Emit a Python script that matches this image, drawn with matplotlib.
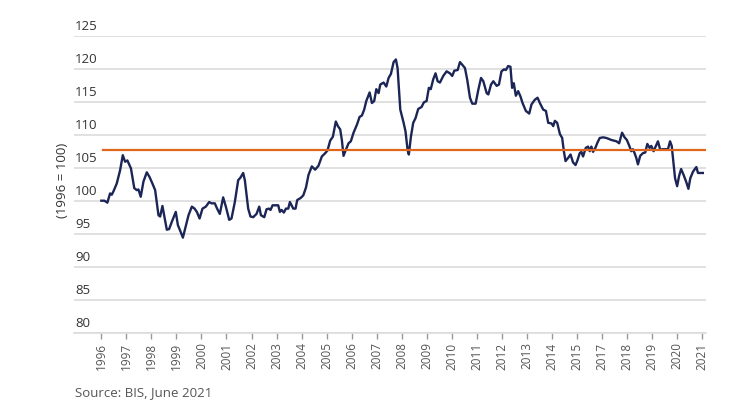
import matplotlib
matplotlib.use("Agg")
import matplotlib.pyplot as plt
from matplotlib.transforms import blended_transform_factory

plt.rcParams['font.family'] = ['Open Sans', 'DejaVu Sans']

months = [0, 1.5, 2.9, 4.2, 5, 5.8, 7.4, 9, 10.3, 11.4, 12.5, 14.2, 15.8, 17, 17.8, 18.9,
          20.2, 21.8, 23.1, 24.5, 25.8, 27.4, 28.2, 29.3, 31.4, 32.5, 33.8, 35.7, 36.7, 38,
          39.1, 40.2, 41.8, 43.4, 44.7, 45.8, 47.1, 48.5, 50.1, 51.7, 52.8, 54.4, 55.5, 56.8,
          58.4, 59.7, 61.3, 62.4, 64, 65.6, 66.7, 68, 68.8, 70.4, 71.5, 72.8, 74.4, 75.7,
          76.5, 78.1, 79.2, 80.3, 81.1, 82.1, 84.8, 85.6, 86.4, 87.5, 88.5, 89.6, 90.4, 92,
          93.1, 93.9, 95.5, 96.8, 98.1, 99.3, 100.9, 102.5, 104.1, 105.7, 107.3, 108.4, 109.7,
          111, 112.4, 113.4, 114.5, 115.3, 116.1, 117.2, 118.5, 119.6, 120.9, 122.5, 123.8,
          124.9, 126, 127, 128.6, 129.7, 130.8, 131.8, 132.9, 133.7, 135.3, 136.6, 137.7,
          138.8, 140.1, 141.2, 142, 143.3, 144.9, 145.8, 146.8, 147.4, 148.4, 149.5, 150.6,
          151.9, 153.5, 154.6, 155.9, 157, 157.9, 159.1, 160.2, 161.2, 162.3, 163.9, 165.5,
          167.1, 168.2, 169.2, 170.8, 171.9, 173, 174.3, 175.4, 176.7, 177.8, 179.4, 180.7,
          182, 183.1, 184.7, 185.5, 186.8, 187.9, 189.5, 190.6, 191.8, 193, 193.9, 195, 196.1,
          196.9, 197.7, 198.7, 199.8, 200.9, 201.9, 203.5, 205.1, 206.2, 207.8, 209.1, 210.2,
          211.8, 213.1, 214.2, 215.8, 216.6, 217.4, 218.5, 219.8, 220.9, 221.7, 222.5, 223.8,
          224.9, 226.1, 227.3, 228.2, 229.3, 230.1, 230.9, 232.2, 233.3, 234.1, 234.9, 235.7,
          236.8, 237.8, 238.9, 240.5, 242.1, 244.5, 246.9, 248.2, 249.6, 250.8, 251.9, 253.2,
          254, 254.8, 255.6, 256.4, 257.2, 258.3, 259.6, 260.7, 261.7, 262.8, 263.6, 264.7,
          265.7, 266.8, 267.9, 268.9, 271.6, 272.6, 273.4, 274.4, 275, 276, 276.9, 277.9,
          279.1, 280.4, 281.4, 282.3, 283.6, 285.2, 286, 287.6, 288.3]
index_level = [100.0, 100.0, 99.7, 101.1, 100.9, 101.4, 102.6, 104.6, 106.9, 105.9, 106.1, 104.9,
               101.9, 101.6, 101.7, 100.6, 102.9, 104.3, 103.6, 102.6, 101.6, 97.8, 97.6, 99.2,
               95.6, 95.7, 96.8, 98.3, 96.3, 95.3, 94.4, 95.8, 97.8, 99.1, 98.8, 98.3, 97.3, 98.8,
               99.1, 99.8, 99.6, 99.6, 98.8, 98.0, 100.5, 99.1, 97.1, 97.3, 99.8, 103.1, 103.5,
               104.2, 103.1, 98.8, 97.6, 97.5, 98.0, 99.1, 97.8, 97.5, 98.7, 98.8, 98.6, 99.3,
               99.3, 98.3, 98.6, 98.2, 98.8, 98.8, 99.8, 98.8, 98.8, 100.1, 100.4, 100.8, 102.0,
               103.9, 105.2, 104.7, 105.3, 106.7, 107.2, 107.6, 109.1, 109.7, 112.0, 111.3, 110.8,
               109.2, 106.8, 107.7, 108.7, 109.0, 110.3, 111.5, 112.7, 112.9, 113.8, 115.1, 116.4,
               114.8, 115.1, 116.9, 116.3, 117.6, 117.9, 117.3, 118.6, 119.2, 121.0, 121.4, 120.1,
               113.8, 111.8, 110.5, 107.7, 107.0, 109.7, 111.8, 112.5, 113.9, 114.2, 114.9, 115.1,
               117.1, 116.9, 118.4, 119.3, 118.1, 117.9, 118.9, 119.6, 119.3, 118.9, 119.7, 119.8,
               121.0, 120.6, 120.1, 118.3, 115.6, 114.7, 114.7, 116.8, 118.6, 118.1, 116.3, 116.1,
               117.6, 118.1, 117.4, 117.6, 119.6, 119.9, 119.8, 120.4, 120.3, 117.1, 117.8, 115.9,
               116.6, 115.8, 114.8, 113.6, 113.2, 114.6, 115.3, 115.6, 114.8, 113.8, 113.6, 111.8,
               111.7, 111.3, 112.1, 111.8, 110.1, 109.5, 107.5, 106.0, 106.5, 107.0, 105.8, 105.4,
               106.1, 107.2, 107.4, 106.7, 108.0, 108.2, 107.5, 108.2, 107.4, 108.0, 108.8, 109.5,
               109.6, 109.5, 109.2, 109.0, 108.7, 110.3, 109.6, 109.2, 108.2, 107.5, 107.8, 107.2,
               106.5, 105.5, 106.8, 107.2, 107.3, 108.6, 108.0, 108.3, 107.5, 108.2, 109.0, 107.7,
               107.8, 107.8, 109.0, 108.3, 105.2, 103.4, 102.2, 103.7, 104.8, 103.9, 102.8, 101.8,
               103.4, 104.4, 105.1, 104.2, 104.2, 104.2]
long_run_average = 107.7

year_labels = ['1996', '1997', '1998', '1999', '2000', '2001', '2002', '2003', '2004',
               '2005', '2006', '2007', '2008', '2009', '2010', '2011', '2012', '2013',
               '2014', '2015', '2017', '2018', '2019', '2020', '2021']
y_ticks = [80, 85, 90, 95, 100, 105, 110, 115, 120, 125]

fig = plt.figure(figsize=(7.51, 4.08), dpi=100)
ax = fig.add_axes([0.0985, 0.1846, 0.8415, 0.7279])

ax.plot(months, index_level, color='#1b2656', linewidth=1.7, solid_joinstyle='round', zorder=3)
ax.plot([months[0] + 1, months[-1] + 1], [long_run_average, long_run_average],
        color='#e0661c', linewidth=1.6, zorder=4)

ax.set_ylim(80, 125)
ax.set_xlim(-13.1, 289.8)
ax.set_yticks(y_ticks)
ax.set_yticklabels([])
ax.tick_params(axis='y', length=0)
ax.grid(axis='y', color='#dcdcdc', linewidth=1.2)
ax.set_axisbelow(True)

# y labels sit just above their gridline, like the original
trans = blended_transform_factory(ax.transAxes, ax.transData)
for v in y_ticks:
    ax.text(0.002, v + 0.35, str(v), transform=trans, ha='left', va='bottom',
            fontsize=9.5, color='#333333')

ax.set_xticks([12 * i for i in range(len(year_labels))])
ax.set_xticklabels(year_labels, rotation=90, fontsize=8.5, color='#555555')
ax.tick_params(axis='x', length=4, width=1, color='#999999', pad=3)

for s in ['top', 'right', 'left']:
    ax.spines[s].set_visible(False)
ax.spines['bottom'].set_color('#dcdcdc')
ax.spines['bottom'].set_linewidth(1.2)

fig.text(0.0826, 0.558, '(1996 = 100)', rotation=90, ha='center', va='center',
         fontsize=9.5, color='#333333')
fig.text(0.1, 0.022, 'Source: BIS, June 2021', ha='left', va='bottom',
         fontsize=9.5, color='#555555')

fig.savefig('out.png', dpi=100)
